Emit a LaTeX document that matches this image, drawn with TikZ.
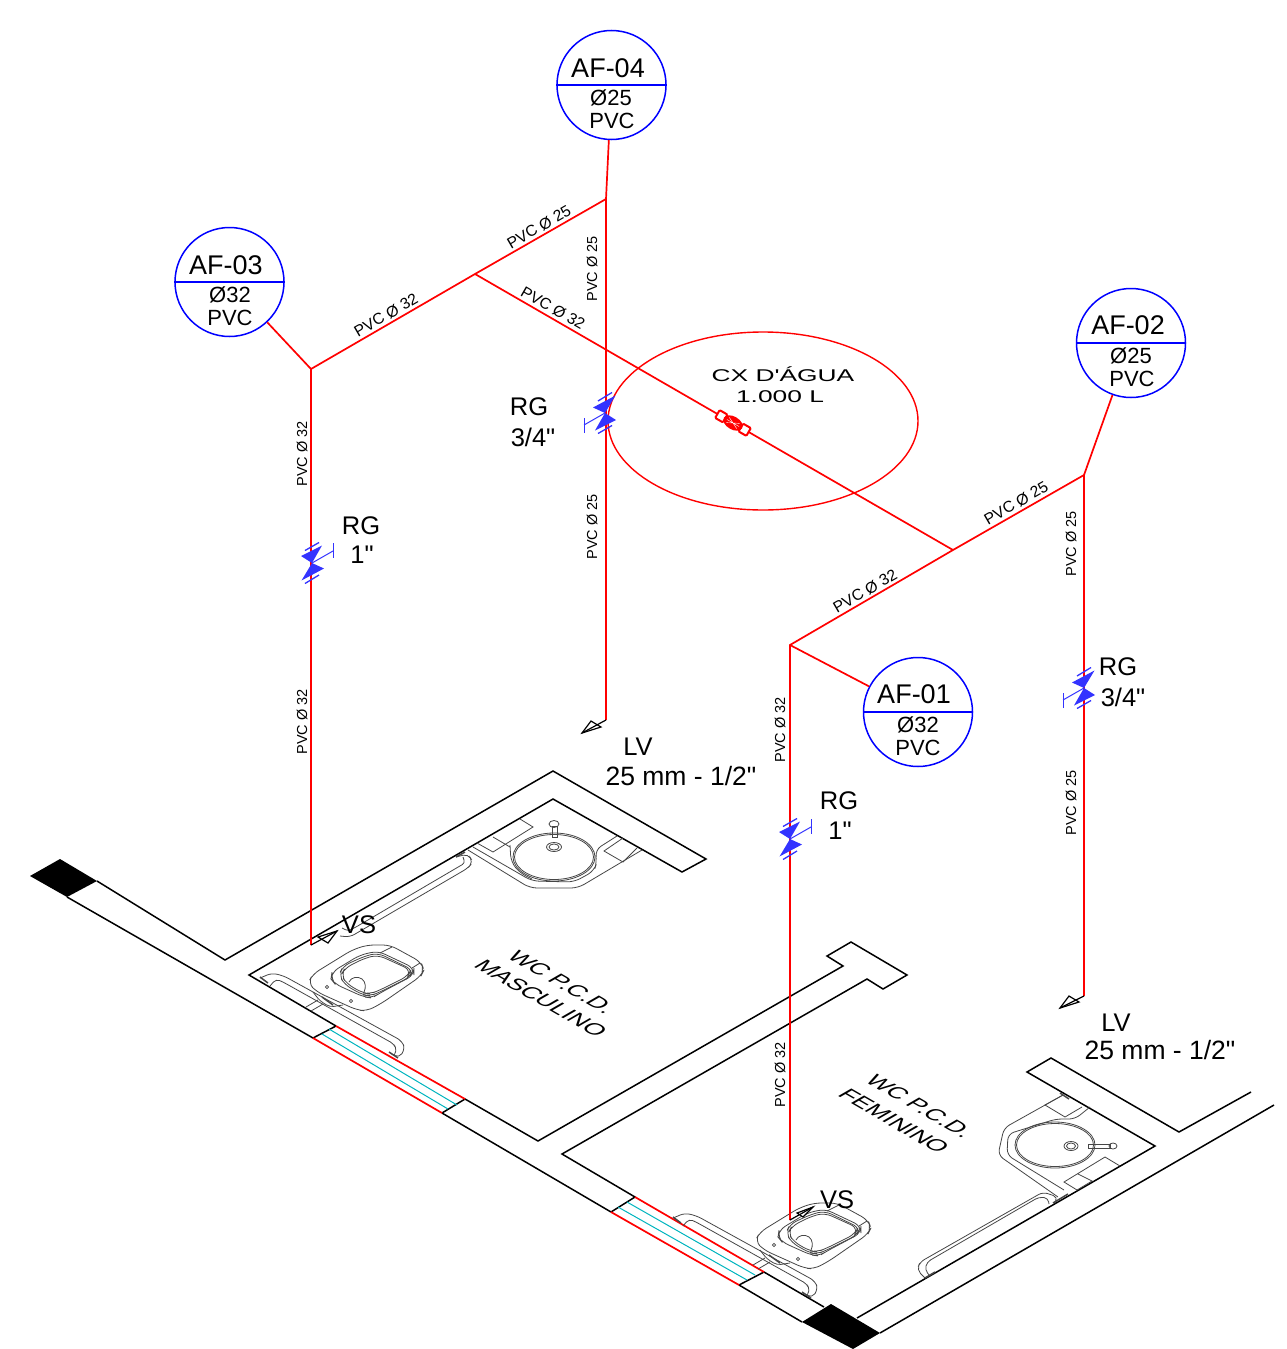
\documentclass[tikz,border=0pt]{standalone}
\usepackage{fontspec}
\setmainfont{Liberation Sans}
\newfontfamily\plainsans{Liberation Sans}
\usetikzlibrary{shapes.geometric}
\definecolor{pipe}{RGB}{255,0,0}
\definecolor{tag}{RGB}{0,0,255}
\definecolor{valvefill}{RGB}{51,51,255}
\definecolor{glass}{RGB}{0,180,190}
\definecolor{fix}{RGB}{70,70,70}
\tikzset{
 wall/.style={black,line width=1.5pt,line join=miter},
 pipeline/.style={pipe,line width=1.7pt},
 fixline/.style={fix,line width=0.8pt,rounded corners=4pt},
 tagcircle/.style={circle,draw=tag,line width=1.5pt,minimum size=109pt,inner sep=0pt},
 tagbig/.style={font=\fontsize{27}{27}\selectfont,inner sep=0pt},
 tagsmall/.style={font=\fontsize{22}{22}\selectfont,inner sep=0pt},
 pipelabel/.style={font=\fontsize{14.5}{14.5}\selectfont,inner sep=0pt},
 difflabel/.style={font=\fontsize{15.7}{15.7}\selectfont,inner sep=0pt},
 note/.style={font=\plainsans\fontsize{25.5}{25.5}\selectfont,inner sep=0pt},
 longnote/.style={font=\plainsans\fontsize{26.5}{26.5}\selectfont,inner sep=0pt},
 isotext/.style={font=\fontsize{22}{22}\selectfont,inner sep=0pt,transform shape,cm={.945,-.545,.866,.5,(0,0)}},
 wide/.style={font=\plainsans\fontsize{17}{17}\selectfont,inner sep=0pt,transform shape,xscale=1.55},
}
\newcommand{\valvesym}[3]{%
 \begin{scope}[shift={(#1,#2)},rotate=#3]
  \fill[valvefill] (-11,-7) -- (10,-17.5) -- (0,0) -- cycle;
  \fill[valvefill] (-10.5,17.5) -- (12,5.5) -- (0,0) -- cycle;
  \draw[valvefill,line width=1.3pt] (-7,-12.5) -- (7,-20.5);
  \draw[valvefill,line width=1.3pt] (-7,20.5) -- (7,12);
  \draw[valvefill,line width=1pt] (0,0) -- (21,-12);
  \draw[valvefill,line width=1pt] (21,-20) -- (21,-5);
 \end{scope}}
\newcommand{\openarrow}[6]{\draw[black,line width=1.2pt,fill=white,line join=miter] (#1,#2) -- (#3,#4) -- (#5,#6) -- cycle;}
\newcommand{\toiletshape}{%
 \draw[fixline,rounded corners=7pt] (308,983) -- (313,974) -- (352,950) -- (367,945) -- (390,945) -- (421,962) -- (424,970) -- (421,976) -- (382,1003) -- (367,1011) -- (357,1010) -- (317,992) -- cycle;
 \draw[fixline,rounded corners=7pt] (331,979) -- (332,972) -- (360,955) -- (378,951) -- (414,968) -- (414,975) -- (380,993) -- (372,998) -- (364,997) -- (335,984) -- cycle;
 \draw[fixline,rounded corners=7pt] (339,975) -- (343,966) -- (365,956) -- (378,953) -- (413,970) -- (410,977) -- (380,992) -- (370,996) -- (363,995) -- (345,985) -- cycle;
 \draw[fixline,rounded corners=7pt] (341,975) -- (345,968) -- (365,958) -- (378,955) -- (411,970) -- (408,976) -- (380,990) -- (370,994) -- (363,993) -- (347,984) -- cycle;
 \draw[fix,line width=.8pt] (349,982) .. controls (351,977) and (358,976) .. (362,979) .. controls (366,982) and (366,988) .. (364,992);
 \draw[fix,line width=.8pt] (392,947) -- (380,953) (420,963) -- (412,968);
 \draw[fix,line width=.8pt] (327,987) circle (1.6);
 \draw[fix,line width=.8pt] (351,1001) circle (1.6);
 \draw[fixline] (313,992) -- (320,1001) -- (330,1007) -- (343,1005);
 \draw[fix,line width=1.5pt] (322,997) -- (333,1005);
 \draw[fix,line width=.8pt] (306,1007) -- (318,1000) (311,1011) -- (323,1004);
}
\newcommand{\barshape}{%
 \draw[fixline,rounded corners=5pt] (260,978) -- (272,973) -- (284,976) -- (402,1041) -- (405,1049) -- (399,1058) -- (390,1053);
 \draw[fixline,rounded corners=4pt] (270,986) -- (276,979) -- (283,982) -- (394,1044) -- (397,1051) -- (394,1055);
 \draw[fix,line width=1.5pt] (260,977) -- (268,983);
 \draw[fix,line width=1.5pt] (389,1052) -- (398,1058);
}
\begin{document}
\begin{tikzpicture}[x=1pt,y=-1pt]
\useasboundingbox (0,0) rectangle (1286,1349);
% walls
\fill[black] (30,876) -- (60,859) -- (97,881) -- (67,897) -- cycle;
\fill[black] (802,1322) -- (831,1304) -- (880,1333) -- (853,1349) -- cycle;
\draw[wall] (97,881) -- (225,960) -- (553,771) -- (706,859) -- (682,872) -- (553,799) -- (249,975) -- (336,1026);
\draw[wall] (67,897) -- (313,1038) -- (336,1026);
\draw[wall] (442,1113) -- (465,1099) -- (538,1141) -- (843,966) -- (827,956) -- (851,942) -- (907,975) -- (883,989) -- (867,979) -- (562,1154) -- (635,1197) -- (611,1212);
\draw[wall] (442,1113) -- (611,1212);
\draw[wall] (739,1285) -- (764,1272) -- (824,1307);
\draw[wall] (739,1285) -- (802,1322);
\draw[wall] (857,1318) -- (1155,1146) -- (1027,1072) -- (1051,1058) -- (1179,1132) -- (1251,1092);
\draw[wall] (880,1333) -- (1274,1105);
% doors
\draw[pipe,line width=1.7pt] (336,1026) -- (465,1099) (313,1038) -- (442,1113);
\draw[glass,line width=1pt] (329,1029) -- (457,1105) (322,1034) -- (448,1109);
\draw[pipe,line width=1.7pt] (635,1197) -- (764,1272) (611,1212) -- (739,1285);
\draw[glass,line width=1pt] (627,1202) -- (755,1275) (618,1207) -- (747,1280);
% masculine fixtures
\toiletshape
\barshape
\draw[fixline,rounded corners=5pt] (456,857) -- (468,854) -- (473,862) -- (468,868) -- (362,930) -- (350,937) -- (340,936);
\draw[fixline,rounded corners=3pt] (463,857) -- (465,863) -- (356,927) -- (348,931) -- (342,928);
\draw[fix,line width=1.5pt] (456,857) -- (465,852);
\draw[fixline,rounded corners=7pt] (468,850) -- (530,888) -- (578,888) -- (642,850);
\draw[fixline,rounded corners=7pt] (473,847) -- (532,881) -- (574,882) -- (594,871) -- (597,862) -- (595,850) -- (617,836);
\draw[fixline,rounded corners=7pt] (510,845) -- (511,862) -- (520,873) -- (532,879);
\draw[fix,line width=.8pt] (554,857) ellipse (41 and 24);
\draw[fix,line width=.8pt] (554,857) ellipse (39.5 and 22.5);
\draw[fix,line width=.8pt] (554,847) ellipse (7.5 and 4.5);
\draw[fix,line width=.8pt] (554,847) ellipse (5 and 3);
\draw[fix,line width=.8pt] (552,826) rectangle (557,837);
\draw[fix,line width=.8pt] (554,824) ellipse (5 and 3.5);
\draw[fix,line width=.8pt] (520,819) -- (533,827) -- (493,852) -- (477,843);
\draw[fix,line width=.8pt] (493,837) -- (510,847);
\draw[fix,line width=.8pt] (637,848) -- (623,862) -- (604,851) -- (623,838);
% feminine fixtures
\begin{scope}[shift={(447,258)}]\toiletshape\end{scope}
\begin{scope}[shift={(413,240)}]\barshape\end{scope}
\draw[fixline,rounded corners=6pt] (1063,1095) -- (1004,1128) -- (998,1155) -- (1058,1197);
\draw[fixline,rounded corners=6pt] (1090,1107) -- (1075,1119) -- (1056,1119) -- (1008,1134) -- (1007,1155) -- (1064,1190);
\draw[fix,line width=.8pt] (1055,1145) ellipse (40 and 23);
\draw[fix,line width=.8pt] (1055,1145) ellipse (38.5 and 21.5);
\draw[fix,line width=.8pt] (1071,1146) ellipse (7 and 4.5);
\draw[fix,line width=.8pt] (1071,1146) ellipse (4.5 and 3);
\draw[fix,line width=.8pt] (1088,1144) rectangle (1110,1148);
\draw[fix,line width=.8pt] (1113,1146) ellipse (4 and 3);
\draw[fix,line width=.8pt] (1063,1095) -- (1045,1105) -- (1065,1117) -- (1082,1107);
\draw[fix,line width=.8pt] (1120,1166) -- (1105,1157) -- (1064,1182) -- (1077,1190) -- (1092,1181) -- (1078,1174);
\draw[fix,line width=1.5pt] (1060,1093) -- (1069,1099);
\draw[fixline,rounded corners=5pt] (1055,1203) -- (1058,1197) -- (1043,1192) -- (920,1262) -- (917,1270) -- (925,1278);
\draw[fixline,rounded corners=4pt] (1049,1204) -- (1048,1198) -- (1039,1197) -- (927,1262) -- (925,1270) -- (930,1276);
\draw[fix,line width=1.5pt] (1053,1203) -- (1068,1194);
\draw[fix,line width=1.5pt] (925,1278) -- (935,1272);
% junctions
\coordinate (j4) at (606,199);
\coordinate (jm) at (475,274);
\coordinate (j3) at (311,369);
\coordinate (j2) at (1084,475);
\coordinate (jr) at (953,550);
\coordinate (j1) at (790,645);
\coordinate (lv1) at (606,720);
\coordinate (lv2) at (1084,996);
\coordinate (vs1) at (311,945);
\coordinate (vs2) at (790,1220);
% tank
\node[ellipse,draw=pipe,line width=1.4pt,minimum width=310pt,minimum height=178pt,inner sep=0pt] (tank) at (763,421) {};
\node[wide] (tank1) at (783,374) {CX D'ÁGUA};
\node[wide] (tank2) at (780,397) {1.000 L};
% tags
\node[tagcircle] (af4) at (611.5,85) {};
\node[tagcircle] (af3) at (229.5,282) {};
\node[tagcircle] (af2) at (1131,343) {};
\node[tagcircle] (af1) at (918,712) {};
\foreach \n in {af4,af3,af2,af1} \draw[tag,line width=1.5pt] (\n.west) -- (\n.east);
\node[tagbig] (af4a) at (608,68) {AF-04};
\node[tagsmall] (af4b) at (611,98) {Ø25};
\node[tagsmall] (af4c) at (612,121) {PVC};
\node[tagbig] (af3a) at (226,265) {AF-03};
\node[tagsmall] (af3b) at (230,295) {Ø32};
\node[tagsmall] (af3c) at (230,318) {PVC};
\node[tagbig] (af2a) at (1128,325) {AF-02};
\node[tagsmall] (af2b) at (1131,356) {Ø25};
\node[tagsmall] (af2c) at (1132,379) {PVC};
\node[tagbig] (af1a) at (914,694) {AF-01};
\node[tagsmall] (af1b) at (918,725) {Ø32};
\node[tagsmall] (af1c) at (918,748) {PVC};
% pipes
\draw[pipeline] (af4) -- (j4) -- (jm) -- (j3) -- (vs1);
\draw[pipeline] (j4) -- (lv1);
\draw[pipeline] (af3) -- (j3);
\draw[pipeline] (jm) -- (jr);
\draw[pipeline] (af2) -- (j2) -- (jr) -- (j1) -- (vs2);
\draw[pipeline] (j2) -- (lv2);
\draw[pipeline] (af1) -- (j1);
% arrows
\openarrow{337}{931}{318}{937}{328}{943}
\draw[black,line width=1.2pt] (vs1) -- (337,931);
\openarrow{813}{1207}{797}{1213}{803}{1217}
\draw[black,line width=1.2pt] (vs2) -- (813,1207);
\openarrow{582}{733}{601}{727}{591}{721}
\draw[black,line width=1.2pt] (lv1) -- (582,733);
\openarrow{1060}{1008}{1079}{1002}{1069}{996}
\draw[black,line width=1.2pt] (lv2) -- (1060,1008);
% valves
\valvesym{312}{563}{0}
\valvesym{790}{839}{0}
\valvesym{605}{413}{180}
\valvesym{1084}{688}{180}
% fitting
\begin{scope}[shift={(733,423)},rotate=-30]
 \draw[pipe,line width=2pt,fill=white,rounded corners=1pt] (-18,-4.5) rectangle (-9,4.5);
 \draw[pipe,line width=2pt,fill=white,rounded corners=1pt] (9,-4.5) rectangle (18,4.5);
 \fill[pipe] (0,0) ellipse (10.5 and 6.5);
 \draw[white,line width=.4pt] (-6,-3) -- (6,3) (-6,3) -- (6,-3) (-7,0) -- (7,0);
\end{scope}
% pipe labels
\node[difflabel,rotate=30] (l1) at (539,227) {PVC Ø 25};
\node[difflabel,rotate=30] (l2) at (386,315) {PVC Ø 32};
\node[difflabel,rotate=-30] (l3) at (553,308) {PVC Ø 32};
\node[pipelabel,rotate=90] (l4) at (302,454) {PVC Ø 32};
\node[pipelabel,rotate=90] (l5) at (592,269) {PVC Ø 25};
\node[pipelabel,rotate=90] (l6) at (592,527) {PVC Ø 25};
\node[pipelabel,rotate=90] (l7) at (302,722) {PVC Ø 32};
\node[pipelabel,rotate=90] (l8) at (1071,544) {PVC Ø 25};
\node[pipelabel,rotate=90] (l9) at (1071,803) {PVC Ø 25};
\node[pipelabel,rotate=90] (l10) at (780,730) {PVC Ø 32};
\node[pipelabel,rotate=90] (l11) at (780,1075) {PVC Ø 32};
\node[difflabel,rotate=30] (l12) at (1016,503) {PVC Ø 25};
\node[difflabel,rotate=30] (l13) at (865,591) {PVC Ø 32};
% notes
\node[note] (n1) at (529,407) {RG};
\node[note] (n2) at (533,437) {3/4"};
\node[note] (n3) at (361,526) {RG};
\node[note] (n4) at (362,555) {1"};
\node[note] (n5) at (1118,667) {RG};
\node[note] (n6) at (1123,697) {3/4"};
\node[note] (n7) at (839,801) {RG};
\node[note] (n8) at (840,831) {1"};
\node[note] (n9) at (638,747) {LV};
\node[longnote] (n10) at (681,776) {25 mm - 1/2"};
\node[note] (n11) at (1116,1023) {LV};
\node[longnote] (n12) at (1160,1050) {25 mm - 1/2"};
\node[note] (n13) at (359,925) {VS};
\node[note] (n14) at (837,1200) {VS};
\node[isotext] (r1) at (562,982) {WC P.C.D.};
\node[isotext] (r2) at (541,998) {MASCULINO};
\node[isotext] (r3) at (920,1106) {WC P.C.D.};
\node[isotext] (r4) at (894,1121) {FEMININO};
\end{tikzpicture}
\end{document}
